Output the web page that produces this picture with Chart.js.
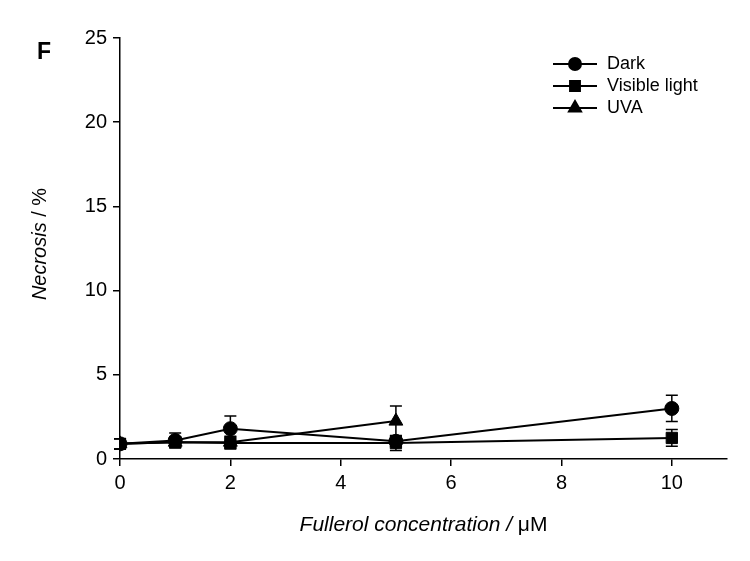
<!DOCTYPE html>
<html>
<head>
<meta charset="utf-8">
<script src="https://cdn.jsdelivr.net/npm/chart.js@4/dist/chart.umd.min.js"></script>
<style>
  html, body { margin: 0; padding: 0; background: #fff; }
  #wrap { width: 750px; height: 561px; }
</style>
</head>
<body>
<div id="wrap"><canvas id="necrosisChart" width="750" height="561"></canvas></div>
<script>
// Fullerol necrosis chart (panel F)

const concentrations = [0, 1, 2, 5, 10];
const darkValues = [0.9, 1.1, 1.8, 1.05, 3.0];
const darkErrors = [0.3, 0.45, 0.75, 0.3, 0.78];
const visibleValues = [0.9, 1.0, 0.95, 0.95, 1.25];
const visibleErrors = [0.3, 0.3, 0.35, 0.45, 0.5];
const uvaValues = [0.9, 1.0, 1.0, 2.25, null];
const uvaErrors = [0.3, 0.3, 0.35, 0.9, null];
const seriesNames = ['Dark', 'Visible light', 'UVA'];
const xTicks = [0, 2, 4, 6, 8, 10];
const yTicks = [0, 5, 10, 15, 20, 25];

const FONT = '"Liberation Sans", Arial, sans-serif';

function toPoints(values) {
  return concentrations
    .map((x, i) => ({ x: x, y: values[i] }))
    .filter(p => p.y !== null);
}

function makeSet(label, values, errors, style, radius) {
  return {
    label: label,
    data: toPoints(values),
    errors: errors,
    borderColor: '#000',
    backgroundColor: '#000',
    borderWidth: 2,
    pointStyle: style,
    pointRadius: radius,
    pointHoverRadius: radius,
    pointBorderWidth: 1,
    tension: 0,
    fill: false
  };
}

// error bars with caps, drawn under the markers
const errorBars = {
  id: 'errorBars',
  beforeDatasetsDraw(chart) {
    const ctx = chart.ctx;
    const xs = chart.scales.x, ys = chart.scales.y;
    ctx.save();
    ctx.strokeStyle = '#000';
    ctx.lineWidth = 1.5;
    chart.data.datasets.forEach(ds => {
      ds.data.forEach((p, i) => {
        const err = ds.errors[i];
        if (err === null || err === undefined) return;
        const px = xs.getPixelForValue(p.x);
        const top = ys.getPixelForValue(p.y + err);
        const bot = ys.getPixelForValue(Math.max(0, p.y - err));
        ctx.beginPath();
        ctx.moveTo(px, top); ctx.lineTo(px, bot);
        ctx.moveTo(px - 6, top); ctx.lineTo(px + 6, top);
        ctx.moveTo(px - 6, bot); ctx.lineTo(px + 6, bot);
        ctx.stroke();
      });
    });
    ctx.restore();
  }
};

// legend, axis titles and panel letter
const decorations = {
  id: 'decorations',
  afterDraw(chart) {
    const ctx = chart.ctx;
    const area = chart.chartArea;
    ctx.save();
    ctx.fillStyle = '#000';
    ctx.strokeStyle = '#000';

    // panel letter
    ctx.font = 'bold 23px ' + FONT;
    ctx.textBaseline = 'alphabetic';
    ctx.fillText('F', 37, 59);

    // legend
    const rows = [64, 86, 108];
    const legendRadius = [6, 7, 7];
    chart.data.datasets.forEach((ds, i) => {
      const y = rows[i];
      ctx.lineWidth = 2;
      ctx.beginPath();
      ctx.moveTo(553, y); ctx.lineTo(597, y);
      ctx.stroke();
      Chart.helpers.drawPoint(ctx, {
        pointStyle: ds.pointStyle, radius: legendRadius[i], borderWidth: 1
      }, 575, y);
      ctx.fill();
      ctx.font = '18px ' + FONT;
      ctx.textBaseline = 'middle';
      ctx.fillText(ds.label, 607, y);
    });

    // x title
    ctx.textBaseline = 'alphabetic';
    const xa = 'Fullerol concentration / ';
    const xb = '\u03bcM';
    ctx.font = 'italic 21px ' + FONT;
    const wa = ctx.measureText(xa).width;
    ctx.font = '21px ' + FONT;
    const wb = ctx.measureText(xb).width;
    let sx = (area.left + area.right) / 2 - (wa + wb) / 2;
    ctx.font = 'italic 21px ' + FONT;
    ctx.fillText(xa, sx, 531);
    ctx.font = '21px ' + FONT;
    ctx.fillText(xb, sx + wa, 531);

    // y title
    ctx.translate(46, 244);
    ctx.rotate(-Math.PI / 2);
    const ya = 'Necrosis';
    const yb = ' / %';
    ctx.font = 'italic 20px ' + FONT;
    const wya = ctx.measureText(ya).width;
    ctx.font = '20px ' + FONT;
    const wyb = ctx.measureText(yb).width;
    const sy = -(wya + wyb) / 2;
    ctx.font = 'italic 20px ' + FONT;
    ctx.fillText(ya, sy, 0);
    ctx.font = '20px ' + FONT;
    ctx.fillText(yb, sy + wya, 0);
    ctx.restore();
  }
};

new Chart(document.getElementById('necrosisChart'), {
  type: 'line',
  data: {
    datasets: [
      makeSet(seriesNames[0], darkValues, darkErrors, 'circle', 7),
      makeSet(seriesNames[1], visibleValues, visibleErrors, 'rect', 8),
      makeSet(seriesNames[2], uvaValues, uvaErrors, 'triangle', 8)
    ]
  },
  options: {
    responsive: false,
    animation: false,
    layout: { padding: { top: 38, right: 23, left: 0, bottom: 0 } },
    plugins: {
      legend: { display: false },
      tooltip: { enabled: false }
    },
    scales: {
      x: {
        type: 'linear',
        min: 0,
        max: 11,
        afterFit(scale) { scale.height = 102; },
        afterBuildTicks(scale) { scale.ticks = xTicks.map(v => ({ value: v })); },
        grid: { drawOnChartArea: false, drawTicks: true, tickLength: 7, color: '#000', lineWidth: 1.5 },
        border: { color: '#000', width: 1.5 },
        ticks: { color: '#000', font: { family: FONT, size: 20 }, padding: 5 }
      },
      y: {
        min: 0,
        max: 25,
        afterFit(scale) { scale.width = 120; },
        afterBuildTicks(scale) { scale.ticks = yTicks.map(v => ({ value: v })); },
        grid: { drawOnChartArea: false, drawTicks: true, tickLength: 7, color: '#000', lineWidth: 1.5 },
        border: { color: '#000', width: 1.5 },
        ticks: { color: '#000', font: { family: FONT, size: 20 }, padding: 6 }
      }
    }
  },
  plugins: [errorBars, decorations]
});
</script>
</body>
</html>
